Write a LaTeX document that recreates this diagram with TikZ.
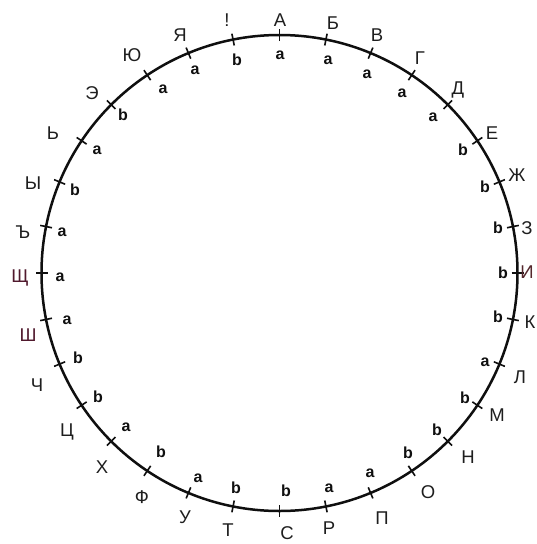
\documentclass[tikz,border=0pt]{standalone}
\usepackage{fontspec}
\setmainfont{Liberation Sans}
\definecolor{ringcol}{RGB}{15,15,15}
\definecolor{lettercol}{RGB}{30,30,30}
\definecolor{maroon}{RGB}{80,25,45}
\definecolor{redgray}{RGB}{85,40,45}
\begin{document}
\begin{tikzpicture}[x=1pt,y=-1pt,
  ring/.style={draw=ringcol,line width=2.5pt},
  tickmark/.style={draw=ringcol,line width=1.6pt},
  letter/.style={inner sep=0pt,text=lettercol,font=\fontsize{18.5}{19}\selectfont},
  ablabel/.style={inner sep=0pt,text=ringcol,font=\fontsize{16}{17}\selectfont\bfseries}]
\useasboundingbox[fill=white] (0,0) rectangle (536,544);
\coordinate (c) at (279.5,273);
\draw[ring] (c) circle[radius=238];
\foreach \i in {0,...,31}{
  \pgfmathsetmacro{\ang}{-90+\i*11.25}
  \coordinate (ti\i) at ([shift={(\ang:232)}]c);
  \coordinate (to\i) at ([shift={(\ang:244)}]c);
  \draw[tickmark] (ti\i) -- (to\i);
}
\foreach \i/\t/\x/\y in {0/А/280/20,1/Б/333/23,2/В/377/35,3/Г/420/58,4/Д/458/90,
  5/Е/492/133,6/Ж/517/175,7/З/527/228,8/{\textcolor{redgray}{И}}/527/272,9/К/530/322,
  10/Л/520/377,11/М/497/415,12/Н/468/457,13/О/428/492,14/П/382/518,15/Р/329/528,
  16/С/287/533,17/Т/228/530,18/У/185/517,19/Ф/142/497,20/Х/102/467,21/Ц/67/432,
  22/Ч/37/385,23/{\textcolor{maroon}{Ш}}/28/335,24/{\textcolor{maroon}{Щ}}/20/278,25/Ъ/23/232,26/Ы/33/183,
  27/Ь/53/133,28/Э/92/93,29/Ю/132/55,30/Я/180/35,31/!/227/20}
  \node[letter] (L\i) at (\x,\y) {\t};
\foreach \i/\t/\x/\y in {0/a/280/55,1/a/328/60,2/a/367/74,3/a/402/93,4/a/433/117,
  5/b/463/150,6/b/485/187,7/b/498/228,8/b/503/273,9/b/498/317,10/a/485/362,
  11/b/465/398,12/b/437/430,13/b/408/453,14/a/370/473,15/a/329/488,16/b/286/491,
  17/b/236/488,18/a/198/478,19/b/161/452,20/a/126/427,21/b/98/397,22/b/78/358,
  23/a/67/320,24/a/60/277,25/a/62/232,26/b/75/190,27/a/97/150,28/b/123/115,
  29/a/163/89,30/a/195/70,31/b/237/60}
  \node[ablabel] (I\i) at (\x,\y) {\t};
\end{tikzpicture}
\end{document}
